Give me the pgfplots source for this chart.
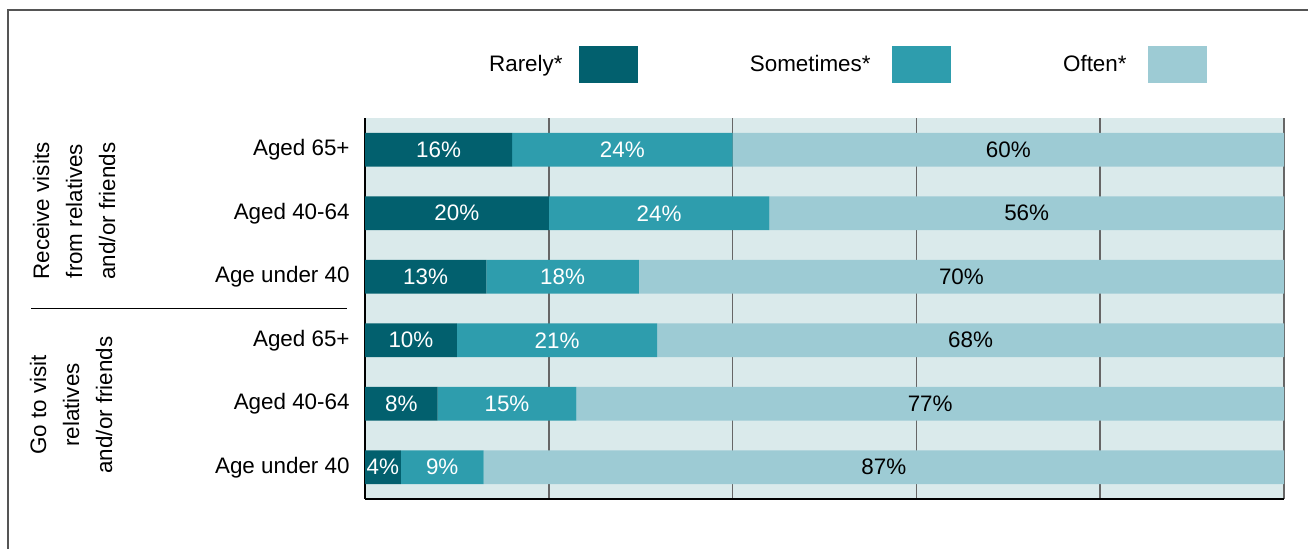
\documentclass[border=0pt]{standalone}
\usepackage{pgfplots}
\pgfplotsset{compat=1.18}
\usepackage{pgfplotstable}
\usepackage{fontspec}
\setmainfont{Liberation Sans}
\definecolor{rarely}{HTML}{02606E}
\definecolor{sometimes}{HTML}{2E9DAD}
\definecolor{often}{HTML}{9DCBD4}
\definecolor{bgcol}{HTML}{DAEAEB}
\definecolor{gridcol}{HTML}{666666}
\definecolor{framecol}{HTML}{555555}

% y = 6 is the top row; v = bar length
\pgfplotstableread{
y v lab
6 16 16\%
5 20 20\%
4 13.2 13\%
3 10 10\%
2 7.9 8\%
1 3.9 4\%
}\rarelytab
\pgfplotstableread{
y v lab
6 24 24\%
5 24 24\%
4 16.6 18\%
3 21.8 21\%
2 15.1 15\%
1 9.0 9\%
}\sometimestab
\pgfplotstableread{
y v lab
6 60 60\%
5 56 56\%
4 70.2 70\%
3 68.2 68\%
2 77 77\%
1 87.1 87\%
}\oftentab

\newcommand{\lblfont}{\fontsize{11.2}{13}\selectfont}

\begin{document}
\begin{tikzpicture}
\path[use as bounding box] (0,0) rectangle (654pt,-274.5pt);
% frame
\draw[framecol, line width=0.6pt] (4pt,-274.5pt) -- (4pt,-5pt) -- (654pt,-5pt);

\begin{axis}[
  at={(182.5pt,-249.5pt)}, anchor=south west,
  width=459.5pt, height=190.5pt, scale only axis,
  xbar stacked, bar width=0.535,
  xmin=0, xmax=100, ymin=0.5, ymax=6.5,
  axis background/.style={fill=bgcol},
  axis x line*=bottom, axis y line*=left,
  axis line style={black, line width=0.75pt},
  xtick={20,40,60,80,100}, xticklabels={},
  major tick length=0pt,
  xmajorgrids, grid style={draw=gridcol, line width=0.75pt},
  ytick={1,2,3,4,5,6},
  yticklabels={Age under 40, Aged 40-64, Aged 65+, Age under 40, Aged 40-64, Aged 65+},
  yticklabel style={font=\lblfont, anchor=east, inner sep=0pt, xshift=-7.5pt},
  point meta=explicit symbolic,
  nodes near coords={\pgfplotspointmeta},
  every node near coord/.append style={font=\lblfont, anchor=center, inner sep=0pt},
]
\addplot[fill=rarely, draw=none, every node near coord/.append style={text=white}]
  table[x=v, y=y, meta=lab] {\rarelytab};
\addplot[fill=sometimes, draw=none, every node near coord/.append style={text=white}]
  table[x=v, y=y, meta=lab] {\sometimestab};
\addplot[fill=often, draw=none, every node near coord/.append style={text=black}]
  table[x=v, y=y, meta=lab] {\oftentab};
\end{axis}

% group labels
\node[rotate=90, align=center, font=\fontsize{11.2}{16.5}\selectfont] at (37pt,-105.5pt)
  {Receive visits\\from relatives\\and/or friends};
\node[rotate=90, align=center, font=\fontsize{11.2}{16.5}\selectfont] at (35.5pt,-202.5pt)
  {Go to visit\\relatives\\and/or friends};
\draw[black, line width=0.5pt] (15.5pt,-154.5pt) -- (173.5pt,-154.5pt);

% legend
\node[anchor=base east, inner sep=0pt, font=\lblfont] at (281.5pt,-36pt) {Rarely*};
\fill[rarely] (289.5pt,-23pt) rectangle (319pt,-41.5pt);
\node[anchor=base east, inner sep=0pt, font=\lblfont] at (435.5pt,-36pt) {Sometimes*};
\fill[sometimes] (446pt,-23pt) rectangle (475.5pt,-41.5pt);
\node[anchor=base east, inner sep=0pt, font=\lblfont] at (563.5pt,-36pt) {Often*};
\fill[often] (574pt,-23pt) rectangle (603.5pt,-41.5pt);
\end{tikzpicture}
\end{document}
